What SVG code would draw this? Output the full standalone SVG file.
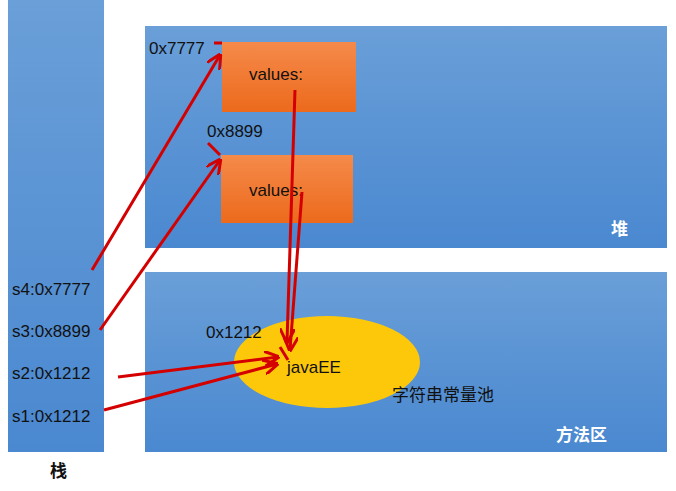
<svg xmlns="http://www.w3.org/2000/svg" width="676" height="491" viewBox="0 0 676 491">
<defs>
<linearGradient id="blue" x1="0" y1="0" x2="0" y2="1"><stop offset="0" stop-color="#6a9fd8"/><stop offset="1" stop-color="#4a88d0"/></linearGradient>
<linearGradient id="org" x1="0" y1="0" x2="0" y2="1"><stop offset="0" stop-color="#f58a4a"/><stop offset="1" stop-color="#ec6a1c"/></linearGradient>
<marker id="ah" viewBox="0 0 10 10" refX="9" refY="5" markerWidth="5" markerHeight="5" orient="auto"><path d="M0,0 L10,5 L0,10" fill="none" stroke="#d40000" stroke-width="2"/></marker>
</defs>
<style>
text{font-family:"Liberation Sans","Noto Sans CJK SC",sans-serif;font-size:17px;fill:#111}
.b{font-weight:bold;fill:#fff}
.c line,.c path{stroke:#d40000;stroke-width:3;fill:none}
</style>
<rect width="676" height="491" fill="#fff"/>
<g id="stack"><rect x="8" y="0" width="96" height="452" fill="url(#blue)"/><text x="50" y="477" font-weight="bold">栈</text>
<text x="12" y="295">s4:0x7777</text><text x="12" y="337">s3:0x8899</text><text x="12" y="379">s2:0x1212</text><text x="12" y="422">s1:0x1212</text></g>
<g id="heap"><rect x="145" y="26" width="522" height="222" fill="url(#blue)"/><text class="b" x="611" y="235">堆</text>
<text x="149" y="54">0x7777</text><text x="207" y="137">0x8899</text></g>
<g id="obj1"><rect x="222" y="42" width="134" height="70" fill="url(#org)"/><text x="249" y="80">values:</text></g>
<g id="obj2"><rect x="221" y="155" width="132" height="68" fill="url(#org)"/><text x="249" y="196">values:</text></g>
<g id="method"><rect x="145" y="272" width="522" height="180" fill="url(#blue)"/><text class="b" x="556" y="441">方法区</text></g>
<g id="pool"><ellipse cx="327" cy="362" rx="93" ry="46" fill="#fec80a"/><text x="287" y="373">javaEE</text>
<text x="206" y="338">0x1212</text><text x="392" y="401">字符串常量池</text></g>
<g class="c">
<line x1="92" y1="270" x2="220" y2="55" marker-end="url(#ah)"/>
<line x1="214" y1="43" x2="222" y2="43"/>
<line x1="100" y1="330" x2="220" y2="160" marker-end="url(#ah)"/>
<line x1="208" y1="143" x2="220" y2="155"/>
<line x1="295" y1="90" x2="287" y2="342" marker-end="url(#ah)"/>
<line x1="302" y1="192" x2="290" y2="350" marker-end="url(#ah)"/>
<line x1="118" y1="377" x2="278" y2="357" marker-end="url(#ah)"/>
<line x1="104" y1="410" x2="277" y2="364" marker-end="url(#ah)"/>
<line x1="280" y1="347" x2="288" y2="360"/>
</g>
</svg>
